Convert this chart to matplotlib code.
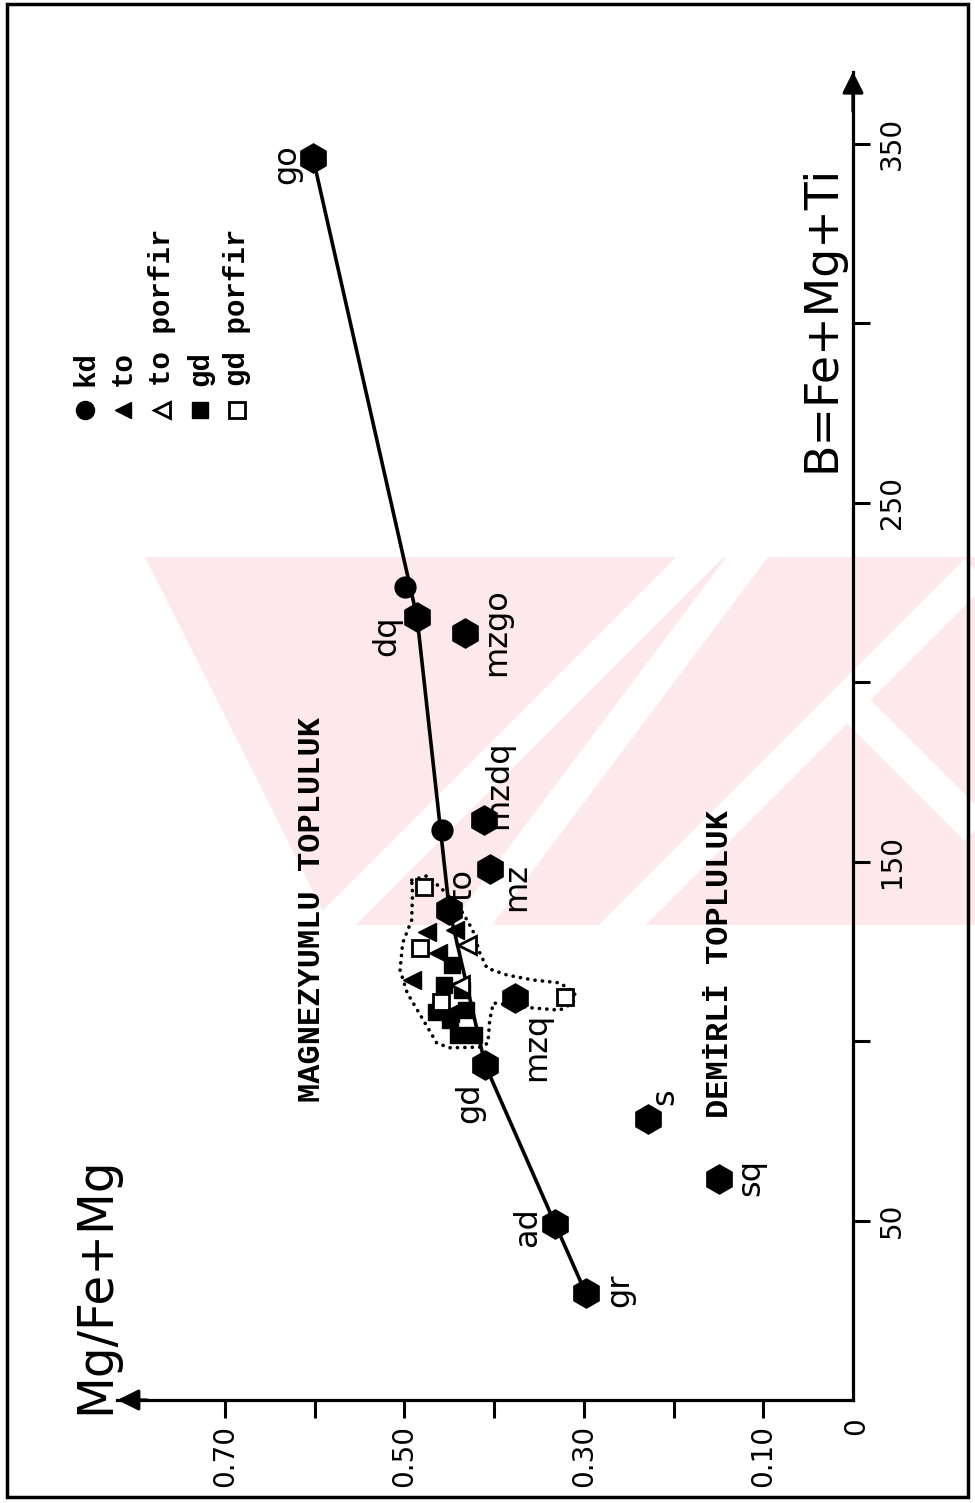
import matplotlib
matplotlib.use("Agg")
import matplotlib.pyplot as plt
from matplotlib.patches import Polygon, Rectangle

# ---- data -------------------------------------------------------------
# reference rock averages: Mg/(Fe+Mg) and B = Fe+Mg+Ti
rock_names = ['gr', 'ad', 'gd', 'to', 'dq', 'go', 'mzgo', 'mzdq', 'mz', 'mzq', 's', 'sq']
rock_mg = [0.298, 0.332, 0.410, 0.450, 0.486, 0.602, 0.433, 0.411, 0.405, 0.377, 0.229, 0.149]
rock_b = [29.8, 49.0, 93.3, 136.5, 218.0, 346.0, 213.6, 161.6, 147.9, 112.0, 78.3, 61.6]

# calc-alkaline trend through gr - ad - gd - to - dq - go
trend_names = ['gr', 'ad', 'gd', 'to', 'dq', 'go']

# samples
kd_mg = [0.499, 0.458]
kd_b = [226.5, 158.8]

to_mg = [0.475, 0.463, 0.492, 0.449, 0.444]
to_b = [130.4, 124.5, 117.0, 107.8, 130.9]

to_porfir_mg = [0.430, 0.438]
to_porfir_b = [126.7, 115.6]

gd_mg = [0.447, 0.456, 0.436, 0.465, 0.449, 0.440, 0.423, 0.431]
gd_b = [121.2, 115.6, 114.2, 108.1, 105.8, 101.7, 101.7, 108.6]

gd_porfir_mg = [0.478, 0.483, 0.459, 0.321]
gd_porfir_b = [142.9, 125.9, 110.9, 112.3]

# dotted envelope around the sample cluster
env_mg = [0.492, 0.475, 0.458, 0.435, 0.424, 0.416, 0.408, 0.386, 0.357, 0.327,
          0.310, 0.312, 0.327, 0.357, 0.401, 0.405, 0.407, 0.416, 0.449, 0.464,
          0.479, 0.497, 0.505, 0.502, 0.492, 0.491]
env_b = [144.8, 146.0, 142.3, 135.7, 130.9, 124.5, 120.3, 118.4, 117.0, 116.2,
         113.4, 110.6, 108.6, 109.2, 110.6, 105.8, 99.4, 98.3, 98.1, 99.4,
         105.8, 113.4, 119.8, 127.3, 133.7, 141.2]

b_ticks = [50, 100, 150, 200, 250, 300, 350]
b_ticklabels = ['50', '', '150', '', '250', '', '350']
mg_ticks = [0.10, 0.20, 0.30, 0.40, 0.50, 0.60, 0.70]
mg_ticklabels = ['0.10', '', '0.30', '', '0.50', '', '0.70']

legend_labels = ['kd', 'to', 'to porfir', 'gd', 'gd porfir']

# ---- figure layout (page turned sideways: B runs up, Mg ratio runs left) --
W, H = 975, 1503
fig = plt.figure(figsize=(W / 100, H / 100), dpi=100)

MG0_PX, MG_SCALE = 853.0, 897.0
B0_PX, B_SCALE = 1400.0, 3.59
MG_MAX, B_MAX = 0.82, 370.0

left_px = MG0_PX - MG_MAX * MG_SCALE
top_px = B0_PX - B_MAX * B_SCALE


def fx(px):
    return px / W


def fy(py):
    return 1 - py / H


# faint watermark behind the plot: a pink band cut by white diagonal bars
pink = '#fde9ec'
band = Polygon([(fx(x), fy(y)) for x, y in
                [(145, 557), (975, 557), (975, 925), (330, 925)]],
               closed=True, transform=fig.transFigure, facecolor=pink,
               edgecolor='none', zorder=0)
fig.add_artist(band)
bars = [
    [(717, 540), (317, 940)],
    [(760, 540), (460, 940)],
    [(1007, 540), (607, 940)],
    [(847, 700), (1087, 940)],
]
for (x0, y0), (x1, y1) in bars:
    ln = plt.Line2D([fx(x0), fx(x1)], [fy(y0), fy(y1)], color='white',
                    lw=24, transform=fig.transFigure, zorder=0.5,
                    solid_capstyle='butt')
    ln.set_clip_path(band)
    fig.add_artist(ln)

ax = fig.add_axes([fx(left_px), fy(B0_PX), (MG0_PX - left_px) / W,
                   (B0_PX - top_px) / H])
ax.set_xlim(MG_MAX, 0)
ax.set_ylim(0, B_MAX)
ax.patch.set_alpha(0)
ax.set_zorder(2)

for side in ['top', 'left']:
    ax.spines[side].set_visible(False)
for side in ['bottom', 'right']:
    ax.spines[side].set_linewidth(2.3)

# arrowheads on the two axes
ax.annotate('', xy=(1, 1.0), xytext=(1, 0.97), xycoords='axes fraction',
            arrowprops=dict(arrowstyle='-|>', color='k', lw=2.3,
                            mutation_scale=32, shrinkA=0, shrinkB=0))
ax.annotate('', xy=(0, 0), xytext=(0.04, 0), xycoords='axes fraction',
            arrowprops=dict(arrowstyle='-|>', color='k', lw=2.3,
                            mutation_scale=32, shrinkA=0, shrinkB=0))

ax.yaxis.tick_right()
ax.set_yticks(b_ticks)
ax.set_yticklabels(b_ticklabels)
ax.set_xticks(mg_ticks)
ax.set_xticklabels(mg_ticklabels)
ax.tick_params(axis='y', direction='out', length=12, width=2.2, labelsize=20,
               labelrotation=90, pad=6)
ax.tick_params(axis='x', direction='out', length=13, width=2.2, labelsize=20,
               labelrotation=90, pad=5)
for lab in ax.get_yticklabels():
    lab.set_va('center')
    lab.set_ha('left')

fig.text(fx(856), fy(1426), '0', rotation=90, ha='center', va='center',
         fontsize=20)

# trend line
idx = [rock_names.index(n) for n in trend_names]
ax.plot([rock_mg[i] for i in idx], [rock_b[i] for i in idx], color='k',
        lw=2.6, zorder=3)

# reference rock hexagons
ax.plot(rock_mg, rock_b, linestyle='none', marker='h', ms=21, color='k',
        zorder=4)

# sample envelope
ax.plot(env_mg + env_mg[:1], env_b + env_b[:1], color='k', lw=2.6,
        linestyle=(0, (0.05, 2.0)), dash_capstyle='round', zorder=3)

# samples
ax.plot(kd_mg, kd_b, linestyle='none', marker='o', ms=15, color='k', zorder=5)
ax.plot(gd_mg, gd_b, linestyle='none', marker='s', ms=12, color='k', zorder=5)
ax.plot(gd_porfir_mg, gd_porfir_b, linestyle='none', marker='s', ms=12,
        mfc='white', mec='k', mew=2, zorder=6)
ax.plot(to_mg, to_b, linestyle='none', marker='<', ms=13, color='k', zorder=6)
ax.plot(to_porfir_mg, to_porfir_b, linestyle='none', marker='<', ms=13,
        mfc='white', mec='k', mew=2, zorder=6)

# rock labels
label_offsets = {
    'go': (-26, 6), 'dq': (-30, 18), 'mzgo': (32, -1), 'mzdq': (14, -35),
    'mz': (27, 18), 'to': (13, -25), 'mzq': (22, 49), 'gd': (-15, 38),
    'ad': (-28, 3), 'gr': (34, -3), 's': (17, -22), 'sq': (31, -1),
}
for n, m, b in zip(rock_names, rock_mg, rock_b):
    dx, dy = label_offsets[n]
    ax.annotate(n, (m, b), xytext=(dx, -dy), textcoords='offset pixels',
                rotation=90, ha='center', va='center', fontsize=23, zorder=7)

# group names
mono = ['Liberation Mono', 'DejaVu Sans Mono']
fig.text(fx(312), fy(910), 'MAGNEZYUMLU TOPLULUK', rotation=90, ha='center',
         va='center', fontsize=23, family=mono, fontweight='bold')
fig.text(fx(720), fy(964), 'DEMİRLİ TOPLULUK', rotation=90, ha='center',
         va='center', fontsize=23, family=mono, fontweight='bold')

# legend
leg_x = [85, 123, 162, 200, 237]
leg_y = 410
leg_styles = [
    dict(marker='o', ms=13, color='k'),
    dict(marker='<', ms=12, color='k'),
    dict(marker='<', ms=11, mfc='white', mec='k', mew=2),
    dict(marker='s', ms=11, color='k'),
    dict(marker='s', ms=11, mfc='white', mec='k', mew=2),
]
for x, lab, st in zip(leg_x, legend_labels, leg_styles):
    fig.add_artist(plt.Line2D([fx(x)], [fy(leg_y)], linestyle='none',
                              transform=fig.transFigure, **st))
    fig.text(fx(x), fy(386), lab, rotation=90, rotation_mode='anchor',
             ha='left', va='center', fontsize=21, family=mono,
             fontweight='bold')

# axis titles
fig.text(fx(822), fy(318), 'B=Fe+Mg+Ti', rotation=90, ha='center',
         va='center', fontsize=33)
fig.text(fx(95), fy(1285), 'Mg/Fe+Mg', rotation=90, ha='center',
         va='center', fontsize=35)

# page frame
fig.add_artist(Rectangle((fx(7), fy(1497)), (968 - 7) / W, (1497 - 4) / H,
                         transform=fig.transFigure, fill=False, lw=2.5,
                         edgecolor='k'))

fig.savefig('out.png', dpi=100)
